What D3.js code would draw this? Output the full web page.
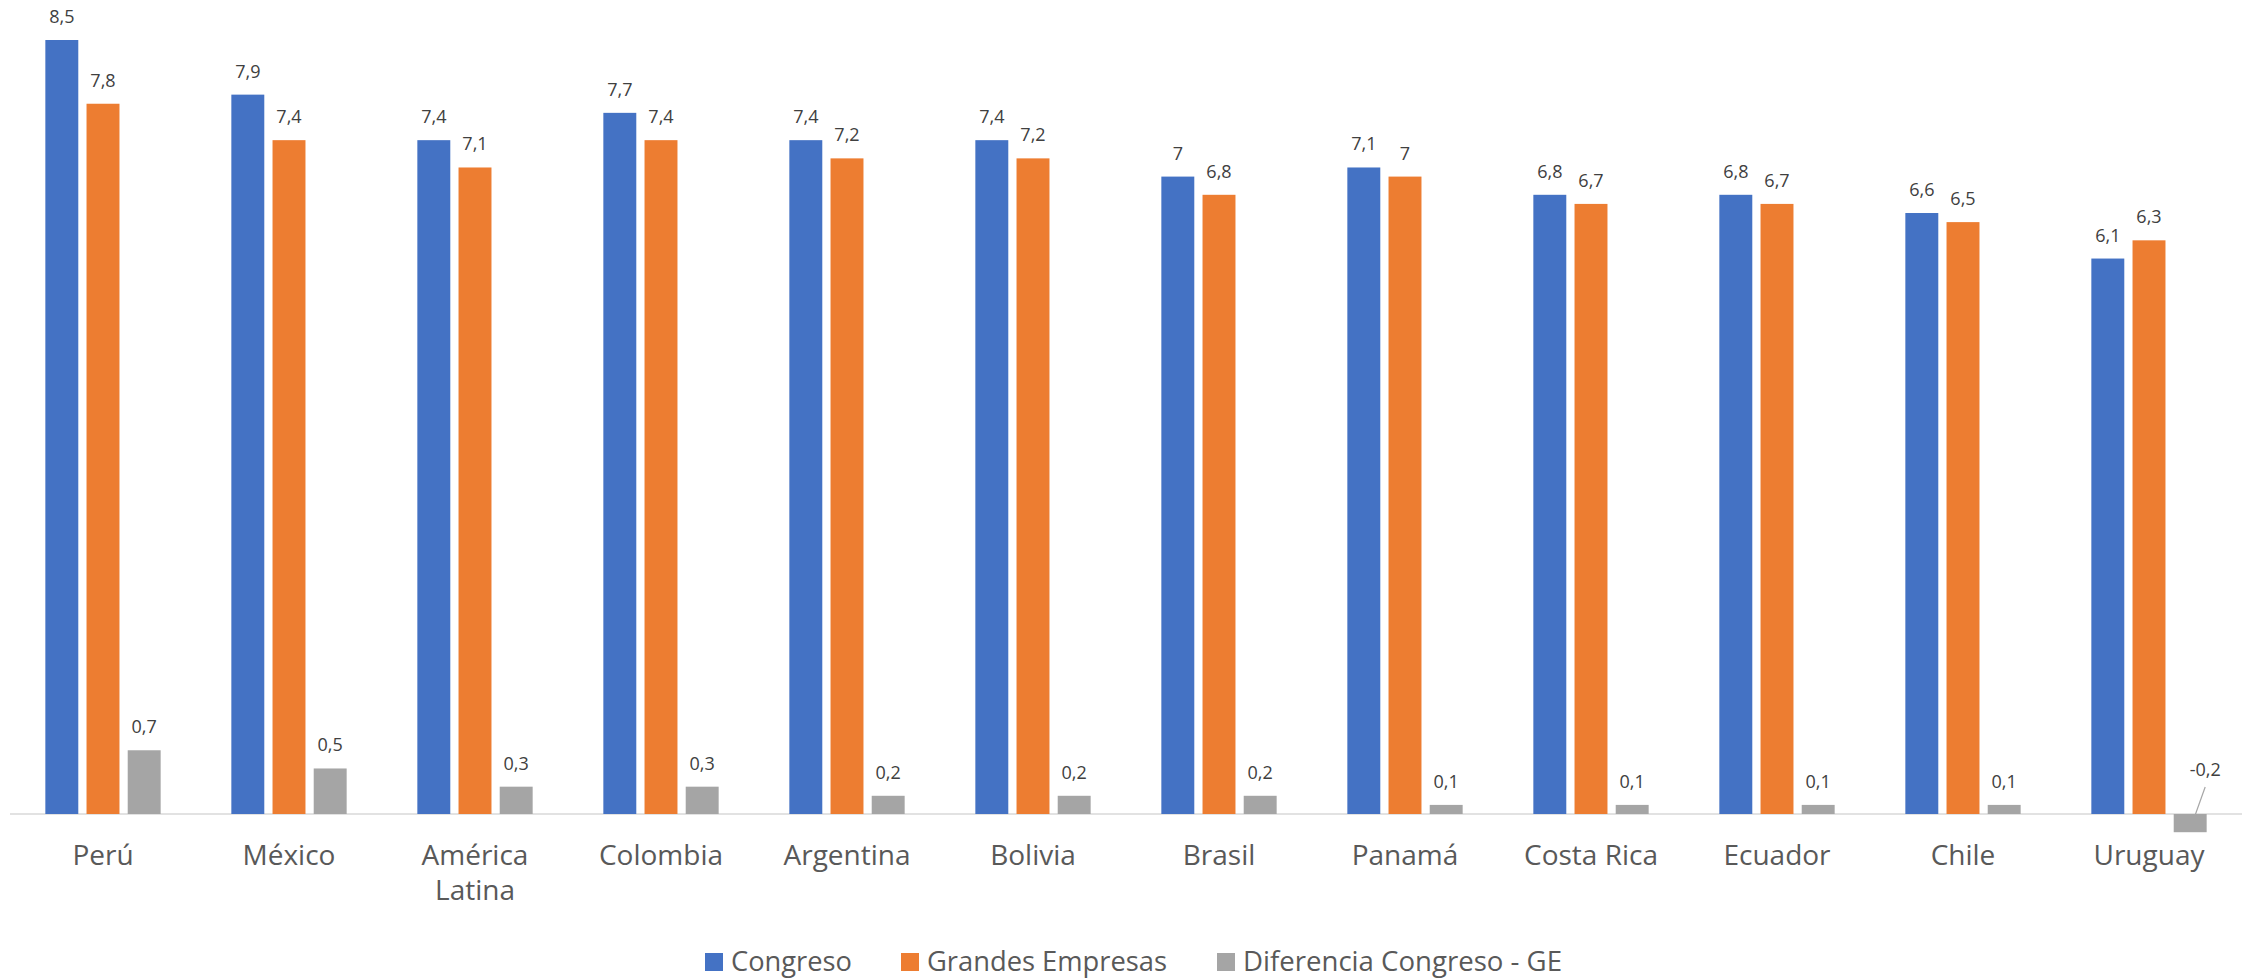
<!DOCTYPE html>
<html>
<head>
<meta charset="utf-8">
<script src="https://cdn.jsdelivr.net/npm/d3@7"></script>
<style>
  body { margin: 0; background: #fff; }
  svg { display: block; font-family: "Open Sans", sans-serif; }
</style>
</head>
<body>
<div id="chart"></div>
<script>
// valores
var paises = ["Perú", "México", "América Latina", "Colombia", "Argentina", "Bolivia",
  "Brasil", "Panamá", "Costa Rica", "Ecuador", "Chile", "Uruguay"];
var congreso = [8.5, 7.9, 7.4, 7.7, 7.4, 7.4, 7, 7.1, 6.8, 6.8, 6.6, 6.1];
var empresas = [7.8, 7.4, 7.1, 7.4, 7.2, 7.2, 6.8, 7, 6.7, 6.7, 6.5, 6.3];
var diferencia = [0.7, 0.5, 0.3, 0.3, 0.2, 0.2, 0.2, 0.1, 0.1, 0.1, 0.1, -0.2];
var series = ["Congreso", "Grandes Empresas", "Diferencia Congreso - GE"];
var colores = ["#4472C4", "#ED7D31", "#A5A5A5"];

var svgWidth = 2252;
var svgHeight = 978;

var svg = d3.select("#chart")
  .append("svg")
  .attr("width", svgWidth)
  .attr("height", svgHeight);

var valores = [congreso, empresas, diferencia];
var data = paises.map(function(p, i) {
  return { pais: p, vals: valores.map(function(v) { return v[i]; }) };
});

var x0 = d3.scaleBand()
  .domain(paises)
  .range([10, 2242])
  .paddingInner(0.38)
  .paddingOuter(0.19);

var x1 = d3.scaleBand()
  .domain(d3.range(series.length))
  .range([0, x0.bandwidth()])
  .paddingInner(0.2);

var y = d3.scaleLinear()
  .domain([0, 8.5])
  .range([814, 40]);

// linea del eje
svg.append("line")
  .attr("x1", 10)
  .attr("x2", 2242)
  .attr("y1", y(0))
  .attr("y2", y(0))
  .attr("stroke", "#d9d9d9")
  .attr("stroke-width", 1.5);

var grupos = svg.selectAll("g.pais")
  .data(data)
  .enter()
  .append("g")
  .attr("class", "pais")
  .attr("transform", function(d) { return "translate(" + x0(d.pais) + ",0)"; });

var celdas = grupos.selectAll("g.barra")
  .data(function(d) { return d.vals.map(function(v, j) { return { v: v, j: j }; }); })
  .enter()
  .append("g")
  .attr("class", "barra");

celdas.append("rect")
  .attr("x", function(d) { return x1(d.j); })
  .attr("width", x1.bandwidth())
  .attr("y", function(d) { return y(Math.max(0, d.v)); })
  .attr("height", function(d) { return Math.abs(y(d.v) - y(0)); })
  .attr("fill", function(d) { return colores[d.j]; });

var fmt = function(v) { return String(v).replace(".", ","); };

// etiquetas de datos
celdas.append("text")
  .attr("x", function(d) { return x1(d.j) + x1.bandwidth() / 2 + (d.v < 0 ? 15 : 0); })
  .attr("y", function(d) { return d.v < 0 ? y(0) - 38 : y(d.v) - 17; })
  .attr("text-anchor", "middle")
  .attr("font-size", "18px")
  .attr("fill", "#404040")
  .text(function(d) { return fmt(d.v); });

// linea guia para el valor negativo
celdas.filter(function(d) { return d.v < 0; })
  .append("line")
  .attr("x1", function(d) { return x1(d.j) + x1.bandwidth() / 2 + 15; })
  .attr("y1", y(0) - 27)
  .attr("x2", function(d) { return x1(d.j) + x1.bandwidth() / 2 + 5; })
  .attr("y2", y(0) + 1)
  .attr("stroke", "#a6a6a6")
  .attr("stroke-width", 1.2);

// etiquetas de categorias
var catText = svg.selectAll("text.cat")
  .data(paises)
  .enter()
  .append("text")
  .attr("class", "cat")
  .attr("x", function(d) { return x0(d) + x0.bandwidth() / 2; })
  .attr("y", 865)
  .attr("text-anchor", "middle")
  .attr("font-size", "28px")
  .attr("fill", "#595959");

catText.each(function(d) {
  var palabras = d === "América Latina" ? ["América", "Latina"] : [d];
  var t = d3.select(this);
  palabras.forEach(function(w, k) {
    t.append("tspan")
      .attr("x", x0(d) + x0.bandwidth() / 2)
      .attr("dy", k === 0 ? 0 : 35)
      .text(w);
  });
});

// leyenda
var leyendaX = [705, 901, 1217];
var leyendaW = [121, 240, 319];
var leyenda = svg.selectAll("g.leyenda")
  .data(series)
  .enter()
  .append("g")
  .attr("class", "leyenda")
  .attr("transform", function(d, i) { return "translate(" + leyendaX[i] + ",953)"; });

leyenda.append("rect")
  .attr("width", 18)
  .attr("height", 18)
  .attr("fill", function(d, i) { return colores[i]; });

leyenda.append("text")
  .attr("x", 26)
  .attr("y", 18)
  .attr("font-size", "27px")
  .attr("fill", "#595959")
  .attr("textLength", function(d, i) { return leyendaW[i]; })
  .attr("lengthAdjust", "spacingAndGlyphs")
  .text(function(d) { return d; });
</script>
</body>
</html>
